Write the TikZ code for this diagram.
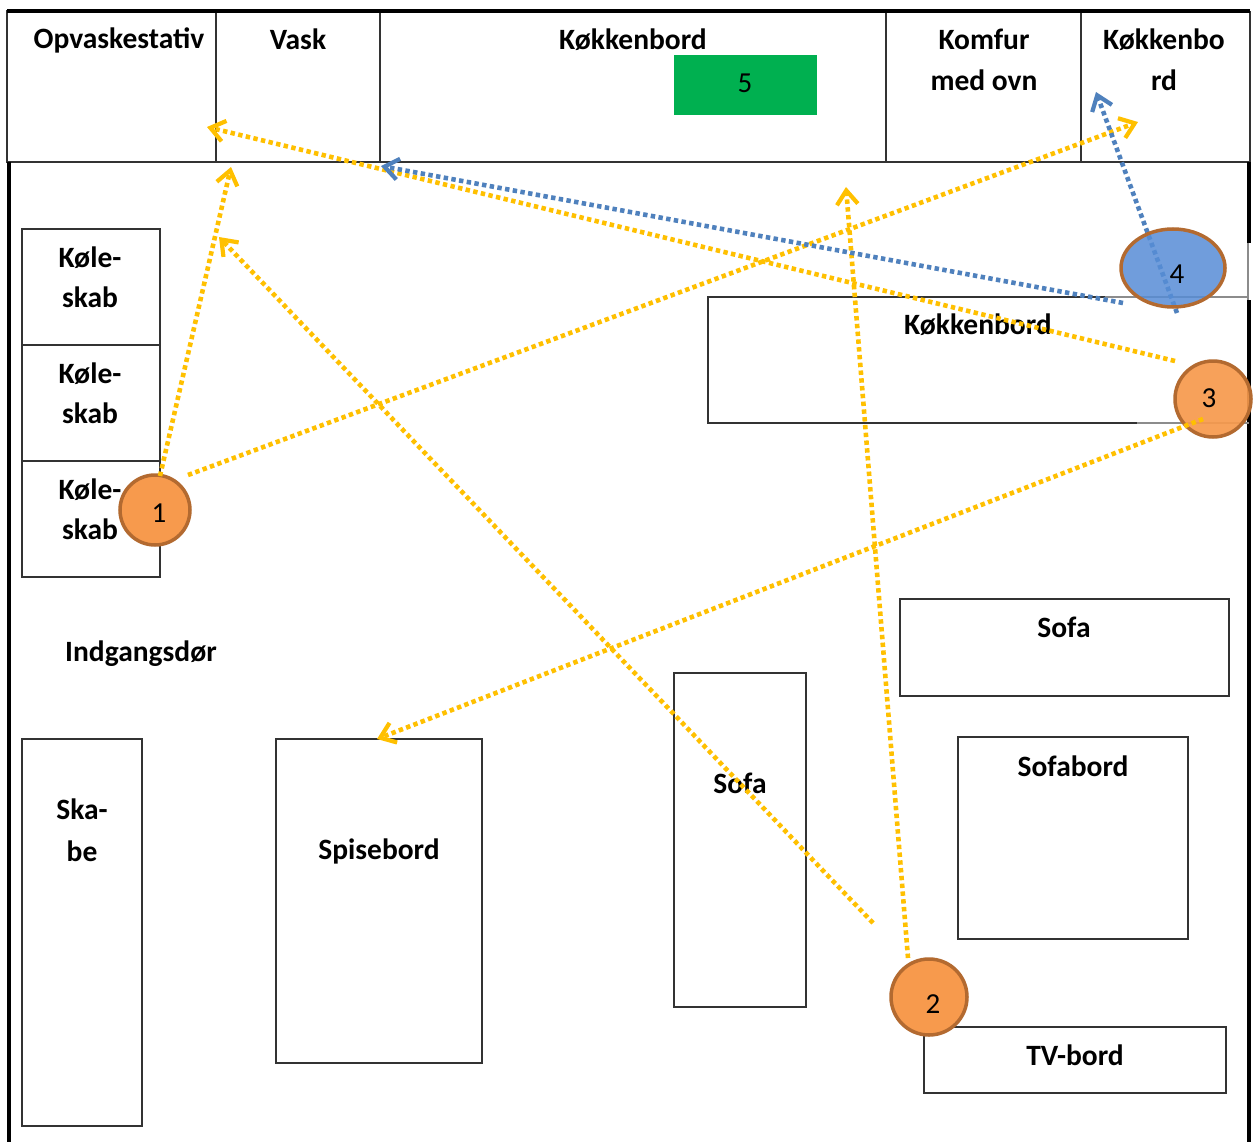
\documentclass[tikz,border=0pt]{standalone}
\usepackage{fontspec}
\setmainfont{Carlito}
\usetikzlibrary{arrows.meta,shapes.geometric}
\definecolor{boxgray}{HTML}{333333}
\definecolor{lightgray2}{HTML}{8C8C8C}
\definecolor{orangefill}{HTML}{F79A4D}
\definecolor{brownedge}{HTML}{B36A30}
\definecolor{bluefill}{HTML}{578DD6}
\definecolor{greenbox}{HTML}{00B050}
\definecolor{yarrowc}{HTML}{FFC000}
\definecolor{barrowc}{HTML}{4F81BD}
\begin{document}
\begin{tikzpicture}[x=1pt,y=-1pt,
  furn/.style={draw=boxgray, line width=1.6pt},
  wall/.style={draw=black, line width=4.5pt},
  lbl/.style={font=\fontsize{29.5}{34}\selectfont\bfseries, anchor=base, inner sep=0pt},
  num/.style={font=\fontsize{29}{34}\selectfont, anchor=base, inner sep=0pt},
  spot/.style={circle, draw=brownedge, line width=3.5pt, fill=orangefill, minimum size=70pt, inner sep=0pt},
  dotline/.style={line width=4.6pt, dash pattern=on 4.4pt off 3.4pt,
     -{Straight Barb[length=14pt,width=21pt,line width=4.2pt]}},
  yarrow/.style={dotline, draw=yarrowc},
  barrow/.style={dotline, draw=barrowc}]
\useasboundingbox (0,0) rectangle (1260,1142);
\fill[white] (0,0) rectangle (1260,1142);

% top row
\draw[furn] (7,11) rectangle (216,162);
\draw[furn] (216,12) rectangle (380,162);
\draw[furn] (380,12) rectangle (886,162);
\draw[furn] (886,12) rectangle (1081,162);
\draw[furn] (1081,12) rectangle (1250,162);
\draw[wall] (7,11) -- (1250,11);
\draw[wall] (9,162) -- (9,1142);
\draw[wall] (1249,162) -- (1249,243);
\draw[draw=lightgray2, line width=1.4pt] (1248,243) -- (1248,300);
\draw[wall] (1249,300) -- (1249,1142);

\node[lbl] (topaskl) at (119,49) {Opvaskestativ};
\node[lbl] (vaskl) at (298,50) {Vask};
\node[lbl] (kb1l) at (633,50) {Køkkenbord};
\node[lbl] (komf1) at (984,50) {Komfur};
\node[lbl] (komf2) at (984,91) {med ovn};
\node[lbl] (kb2a) at (1164,50) {Køkkenbo};
\node[lbl] (kb2b) at (1164,91) {rd};

\fill[greenbox] (674,55) rectangle (817,115);
\node[num] (n5) at (745,93) {5};

% fridges
\draw[furn] (22,229) rectangle (160,345);
\draw[furn] (22,345) rectangle (160,461);
\draw[furn] (22,461) rectangle (160,577);
\node[lbl] (k1a) at (90,267) {Køle-};
\node[lbl] (k1b) at (90,307) {skab};
\node[lbl] (k2a) at (90,383) {Køle-};
\node[lbl] (k2b) at (90,423) {skab};
\node[lbl] (k3a) at (90,499) {Køle-};
\node[lbl] (k3b) at (90,539) {skab};

\node[lbl] (dor) at (141,661) {Indgangsdør};

\draw[furn] (22,739) rectangle (142,1126);
\node[lbl] (ska) at (82,819) {Ska-};
\node[lbl] (be) at (82,861) {be};

\draw[furn] (276,739) rectangle (482,1063);
\node[lbl] (spise) at (379,859) {Spisebord};

\draw[furn] (674,673) rectangle (806,1007);
\node[lbl] (sofa1) at (740,793) {Sofa};

\draw[furn] (900,599) rectangle (1229,696);
\node[lbl] (sofa2) at (1064,637) {Sofa};

\draw[furn] (958,737) rectangle (1188,939);
\node[lbl] (sofab) at (1073,776) {Sofabord};

\draw[furn] (924,1027) rectangle (1226,1093);
\node[lbl] (tv) at (1075,1065) {TV-bord};

\draw[furn] (1137,423) -- (708,423) -- (708,297) -- (1105,297);
\draw[draw=lightgray2, line width=1.4pt] (1105,297) -- (1249,297);
\draw[draw=lightgray2, line width=1.4pt] (1137,423) -- (1249,423);
\node[lbl] (kb3) at (978,334) {Køkkenbord};

% spots
\node[spot] (c1) at (155,510) {};
\node[num] at (159,522) {1};
\node[spot, minimum size=76pt] (c2) at (929,997) {};
\node[num] at (933,1013) {2};

% arrows
\coordinate (a1s) at (160,476);
\coordinate (a1e) at (231,167);
\coordinate (b1s) at (188,475);
\coordinate (b1e) at (1138,122);
\coordinate (c3s) at (1175,361);
\coordinate (c3e) at (207,127);
\coordinate (d2s) at (873,923);
\coordinate (d2e) at (219,237);
\coordinate (e2s) at (908,958);
\coordinate (e2e) at (846,187);
\coordinate (f3s) at (1203,419);
\coordinate (f3e) at (377,739);
\coordinate (g4s) at (1123,303);
\coordinate (g4e) at (381,166);
\coordinate (h4s) at (1177,313);
\coordinate (h4e) at (1096,92);

\draw[yarrow] (a1s) -- (a1e);
\draw[yarrow] (b1s) -- (b1e);
\draw[yarrow] (c3s) -- (c3e);
\draw[yarrow] (d2s) -- (d2e);
\draw[yarrow] (e2s) -- (e2e);
\draw[barrow] (g4s) -- (g4e);
\draw[barrow] (h4s) -- (h4e);

\node[spot, minimum width=76pt, minimum height=72pt, fill opacity=0.92] (c3) at (1213,399) {};
\node[num] at (1209,407) {3};
\draw[yarrow] (f3s) -- (f3e);
\node[ellipse, draw=brownedge, line width=3.5pt, fill=bluefill, fill opacity=0.85,
  minimum width=104pt, minimum height=78pt, inner sep=0pt] (c4) at (1173,268) {};
\node[num] at (1177,283) {4};
\end{tikzpicture}
\end{document}
